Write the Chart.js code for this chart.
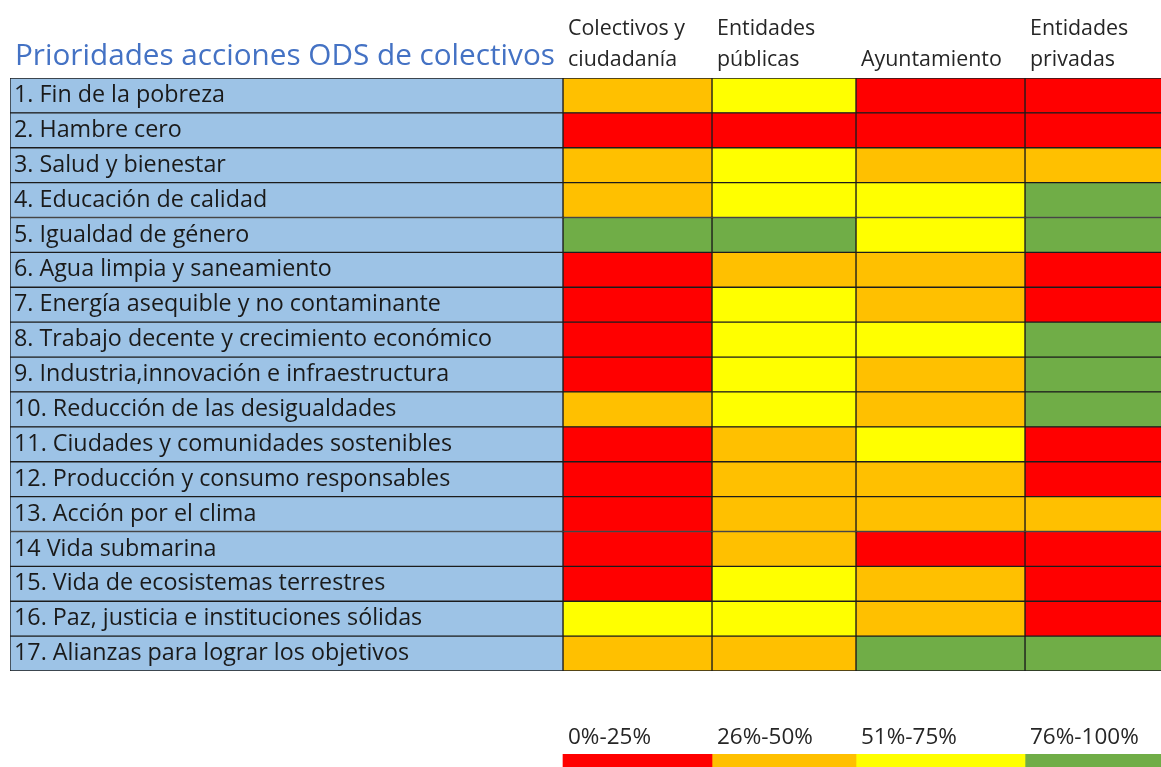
<!DOCTYPE html>
<html lang="es">
<head>
<meta charset="utf-8">
<title>Prioridades acciones ODS de colectivos</title>
<script src="https://cdn.jsdelivr.net/npm/chart.js@4.4.1/dist/chart.umd.min.js"></script>
<style>
    html, body { margin: 0; padding: 0; background: #ffffff; overflow: hidden; }
    #tabla-wrap { position: absolute; left: 0; top: 0; }
    #leyenda-wrap { position: absolute; left: 0; top: 700px; }
</style>
</head>
<body>
<div id="tabla-wrap"><canvas id="tablaChart" width="1200" height="680"></canvas></div>
<div id="leyenda-wrap"><canvas id="leyendaChart" width="1200" height="100"></canvas></div>

<script>
// Datos del gráfico
const titulo = 'Prioridades acciones ODS de colectivos';

const objetivos = [
    '1. Fin de la pobreza',
    '2. Hambre cero',
    '3. Salud y bienestar',
    '4. Educación de calidad',
    '5. Igualdad de género',
    '6. Agua limpia y saneamiento',
    '7. Energía asequible y no contaminante',
    '8. Trabajo decente y crecimiento económico',
    '9. Industria,innovación e infraestructura',
    '10. Reducción de las desigualdades',
    '11. Ciudades y comunidades sostenibles',
    '12. Producción y consumo responsables',
    '13. Acción por el clima',
    '14 Vida submarina',
    '15. Vida de ecosistemas terrestres',
    '16. Paz, justicia e instituciones sólidas',
    '17. Alianzas para lograr los objetivos'
];

const columnas = [['Colectivos y', 'ciudadanía'], ['Entidades', 'públicas'], 'Ayuntamiento', ['Entidades', 'privadas']];

// nivel por objetivo: 0 = 0%-25%, 1 = 26%-50%, 2 = 51%-75%, 3 = 76%-100%
const colectivos   = [1, 0, 1, 1, 3, 0, 0, 0, 0, 1, 0, 0, 0, 0, 0, 2, 1];
const publicas     = [2, 0, 2, 2, 3, 1, 2, 2, 2, 2, 1, 1, 1, 1, 2, 2, 1];
const ayuntamiento = [0, 0, 1, 2, 2, 1, 1, 2, 1, 1, 2, 1, 1, 0, 1, 1, 3];
const privadas     = [0, 0, 1, 3, 3, 0, 0, 3, 3, 3, 0, 0, 1, 0, 0, 0, 3];

const rangos = ['0%-25%', '26%-50%', '51%-75%', '76%-100%'];
const niveles = [0, 1, 2, 3];

// Estilo y maquetación
const paleta = ['#FF0000', '#FFC000', '#FFFF00', '#70AD47'];
const azulEtiqueta = '#9DC3E6';
const borde = '#1c1c1c';
const fuente = '"Open Sans", "Noto Sans", sans-serif';
// bordes de columna en px desde el borde izquierdo de la tabla
const bordes = [0, 553, 702, 846, 1015, 1190];
const sangria = 5;

// tamaño de letra para que un texto ocupe un ancho dado
function fitSize(text, width) {
    const ctx = document.createElement('canvas').getContext('2d');
    ctx.font = '100px ' + fuente;
    return Math.round(100 * width / ctx.measureText(text).width * 10) / 10;
}

const tamTitulo = fitSize(titulo, 540);
const tamFila = fitSize(objetivos[7], 479);
const tamCabecera = fitSize('Ayuntamiento', 141);
const tamLeyenda = fitSize(rangos[3], 109);

function spanCol(i) {
    return objetivos.map(() => [bordes[i], bordes[i + 1]]);
}

const tituloPlugin = {
    id: 'tituloEsquina',
    afterDraw(chart) {
        const ctx = chart.ctx;
        ctx.save();
        ctx.font = tamTitulo + 'px ' + fuente;
        ctx.fillStyle = '#4472C4';
        ctx.textAlign = 'left';
        ctx.textBaseline = 'alphabetic';
        ctx.fillText(titulo, 15, 65);
        ctx.restore();
    }
};

const cellStyle = {
    borderColor: borde,
    borderWidth: 1,
    borderSkipped: false,
    barPercentage: 1,
    categoryPercentage: 1,
    stack: 'tabla'
};

new Chart(document.getElementById('tablaChart'), {
    type: 'bar',
    data: {
        labels: objetivos,
        datasets: [
            { ...cellStyle, label: 'ODS', data: spanCol(0), backgroundColor: azulEtiqueta },
            { ...cellStyle, label: 'Colectivos y ciudadanía', data: spanCol(1), backgroundColor: colectivos.map(n => paleta[n]) },
            { ...cellStyle, label: 'Entidades públicas', data: spanCol(2), backgroundColor: publicas.map(n => paleta[n]) },
            { ...cellStyle, label: 'Ayuntamiento', data: spanCol(3), backgroundColor: ayuntamiento.map(n => paleta[n]) },
            { ...cellStyle, label: 'Entidades privadas', data: spanCol(4), backgroundColor: privadas.map(n => paleta[n]) }
        ]
    },
    options: {
        indexAxis: 'y',
        responsive: false,
        animation: false,
        events: [],
        layout: { padding: { left: 10, right: 0, top: 0, bottom: 9 } },
        scales: {
            x: {
                type: 'linear',
                position: 'top',
                min: bordes[0],
                max: bordes[5],
                stacked: false,
                grid: { display: false, drawTicks: false },
                border: { display: false },
                afterBuildTicks: (s) => {
                    s.ticks = bordes.slice(1, 5).map(v => ({ value: v + sangria }));
                },
                afterFit: (s) => { s.height = 78; s.paddingLeft = 0; s.paddingRight = 0; },
                ticks: {
                    autoSkip: false,
                    maxRotation: 0,
                    minRotation: 0,
                    align: 'start',
                    padding: 3,
                    color: '#262626',
                    font: { family: fuente, size: tamCabecera, lineHeight: '31px' },
                    callback: (v, i) => columnas[i]
                }
            },
            y: {
                stacked: true,
                grid: { display: false, drawTicks: false },
                border: { display: false },
                afterFit: (s) => { s.width = 0; s.paddingTop = 0; s.paddingBottom = 0; },
                ticks: {
                    mirror: true,
                    z: 1,
                    padding: 4,
                    autoSkip: false,
                    color: '#1a1a1a',
                    font: { family: fuente, size: tamFila }
                }
            }
        },
        plugins: {
            legend: { display: false },
            tooltip: { enabled: false }
        }
    },
    plugins: [tituloPlugin]
});

// Leyenda de rangos
new Chart(document.getElementById('leyendaChart'), {
    type: 'bar',
    data: {
        labels: [''],
        datasets: niveles.map(n => ({
            label: rangos[n],
            data: [[bordes[n + 1], bordes[n + 2]]],
            backgroundColor: paleta[n],
            borderWidth: 0,
            barPercentage: 1,
            categoryPercentage: 1,
            stack: 'leyenda'
        }))
    },
    options: {
        indexAxis: 'y',
        responsive: false,
        animation: false,
        events: [],
        layout: { padding: { left: 10, right: 0, top: 0, bottom: 0 } },
        scales: {
            x: {
                type: 'linear',
                position: 'top',
                min: bordes[0],
                max: bordes[5],
                stacked: false,
                grid: { display: false, drawTicks: false },
                border: { display: false },
                afterBuildTicks: (s) => {
                    s.ticks = bordes.slice(1, 5).map(v => ({ value: v + sangria }));
                },
                afterFit: (s) => { s.height = 54; s.paddingLeft = 0; s.paddingRight = 0; },
                ticks: {
                    autoSkip: false,
                    maxRotation: 0,
                    minRotation: 0,
                    align: 'start',
                    padding: 3,
                    color: '#262626',
                    font: { family: fuente, size: tamLeyenda, lineHeight: 1.2 },
                    callback: (v, i) => rangos[i]
                }
            },
            y: {
                stacked: true,
                display: false
            }
        },
        plugins: {
            legend: { display: false },
            tooltip: { enabled: false }
        }
    }
});
</script>
</body>
</html>
